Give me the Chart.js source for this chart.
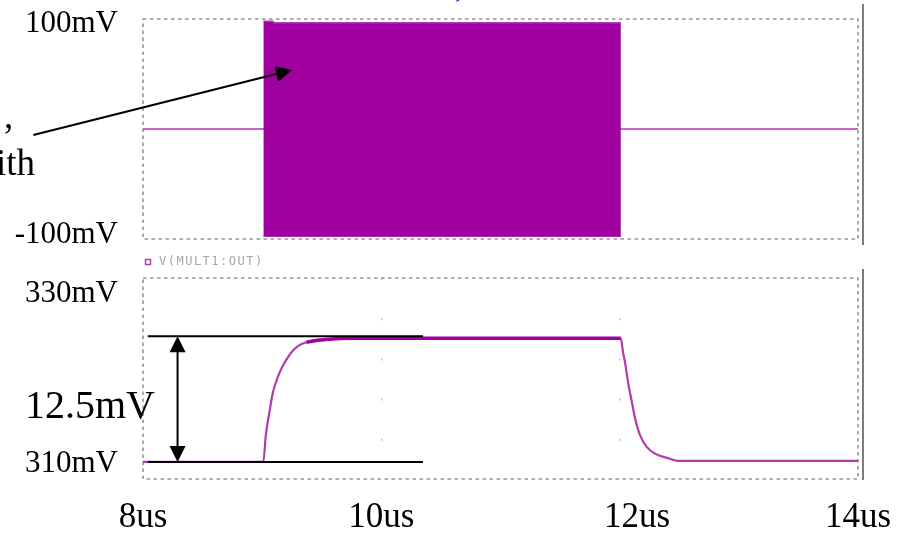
<!DOCTYPE html>
<html>
<head>
<meta charset="utf-8">
<script src="https://cdn.jsdelivr.net/npm/chart.js@4.4.0/dist/chart.umd.min.js"></script>
<style>
  body { margin: 0; background: #fff; }
  #wrap { position: relative; width: 911px; height: 533px; overflow: hidden; }
  canvas { position: absolute; left: 0; }
  #topChart { top: 0; }
  #outChart { top: 250px; }
</style>
</head>
<body>
<div id="wrap">
  <canvas id="topChart" width="911" height="250"></canvas>
  <canvas id="outChart" width="911" height="283"></canvas>
</div>
<script>
// time axis, us
const timeTicks = [8, 10, 12, 14];
const timeLabels = ['8us', '10us', '12us', '14us'];

// upper trace: the modulated burst, drawn as its envelope
const burstTime = [9.01, 9.09, 9.1, 12.01];
const burstHigh = [98, 98, 96.5, 96.5];
const burstLow = [-97.5, -97.5, -97.5, -97.5];
const idleTime = [8, 14];
const idleMv = [0, 0];
const topTicks = [-100, 100];
const topLabels = ['-100mV', '100mV'];

// lower trace: V(MULT1:OUT)
const outName = 'V(MULT1:OUT)';
const outTime = [8, 9.01, 9.03, 9.06, 9.09, 9.13, 9.17, 9.21, 9.26, 9.31, 9.37, 9.46, 9.56, 9.71,
                 12.01, 12.027, 12.045, 12.072, 12.1, 12.128, 12.17, 12.227, 12.3, 12.4, 12.5, 14];
const outMv = [311.7, 311.7, 314.3, 316.6, 318.6, 320.1, 321.2, 322.0, 322.8, 323.3, 323.6, 323.8, 323.9, 324.0,
               324.0, 322.7, 321.6, 319.5, 317.8, 316.1, 314.4, 313.2, 312.5, 312.1, 311.8, 311.8];
const outTicks = [310, 330];
const outLabels = ['310mV', '330mV'];

// measured step on the output
const stepLow = 311.7;
const stepSize = 12.5;

const serif = "'Liberation Serif', 'Times New Roman', serif";
Chart.defaults.font.family = serif;
Chart.defaults.animation = false;

const pts = (xs, ys) => xs.map((x, i) => ({ x: x, y: ys[i] }));

// keep the axes from pushing the plot area around
function noPadding(s) {
  s.paddingTop = 0;
  s.paddingBottom = 0;
  s.paddingLeft = 0;
  s.paddingRight = 0;
}

function timeAxis(show) {
  return {
    type: 'linear',
    min: 8,
    max: 14,
    display: show,
    afterBuildTicks: (s) => { s.ticks = timeTicks.map((v) => ({ value: v })); },
    afterFit: (s) => {
      noPadding(s);
      s.height = show ? 54 : 0;
    },
    grid: {
      drawTicks: false,
      lineWidth: 1.5,
      // only the inner gridlines, the frame takes care of the edges
      color: (c) => (c.index === 0 || c.index === timeTicks.length - 1) ? 'rgba(0,0,0,0)' : '#c2c2c2'
    },
    border: { display: false, dash: [2, 38.2] },
    ticks: {
      padding: 18,
      color: '#000',
      font: { size: 35 },
      // the 12us label sits a bit right of its gridline
      callback: (v, i) => (i === 2 ? '\u2002\u2002' : '') + timeLabels[i]
    }
  };
}

// nudge moves a label up (-) or down (+) from its tick by padding with an empty line
function voltAxis(min, max, ticks, labels, nudge) {
  return {
    type: 'linear',
    min: min,
    max: max,
    afterBuildTicks: (s) => { s.ticks = ticks.map((v) => ({ value: v })); },
    afterFit: (s) => {
      noPadding(s);
      s.width = 143;
    },
    grid: { display: false, drawTicks: false },
    border: { display: false },
    ticks: {
      padding: 25,
      color: '#000',
      callback: (v, i) => nudge[i] > 0 ? ['', labels[i]] : [labels[i], ''],
      font: (c) => ({ size: 31, lineHeight: (2 * Math.abs(nudge[c.index] || 0)) + 'px' })
    }
  };
}

// dotted frame plus the solid bar on the right
const framePlugin = {
  id: 'frame',
  beforeDatasetsDraw(chart, args, opts) {
    const { ctx, chartArea: a } = chart;
    ctx.save();
    ctx.strokeStyle = '#949494';
    ctx.lineWidth = 1.6;
    ctx.setLineDash([3.5, 3.5]);
    ctx.strokeRect(a.left, a.top, a.right - a.left, a.bottom - a.top);
    ctx.setLineDash([]);
    ctx.strokeStyle = '#7c7c7c';
    ctx.lineWidth = 2;
    ctx.beginPath();
    ctx.moveTo(a.right + 5, a.top - opts.above);
    ctx.lineTo(a.right + 5, a.bottom + opts.below);
    ctx.stroke();
    ctx.restore();
  }
};

function arrowHead(ctx, x0, y0, x1, y1, len, half) {
  const ang = Math.atan2(y1 - y0, x1 - x0);
  const bx = x1 - len * Math.cos(ang);
  const by = y1 - len * Math.sin(ang);
  ctx.beginPath();
  ctx.moveTo(x1, y1);
  ctx.lineTo(bx + half * Math.sin(ang), by - half * Math.cos(ang));
  ctx.lineTo(bx - half * Math.sin(ang), by + half * Math.cos(ang));
  ctx.closePath();
  ctx.fill();
}

// pointer into the burst and the bits of slide text around it
const topNotes = {
  id: 'topNotes',
  afterDatasetsDraw(chart) {
    const { ctx, scales: { x, y } } = chart;
    const x0 = x.getPixelForValue(7.08), y0 = y.getPixelForValue(-5.5);
    const x1 = x.getPixelForValue(9.25), y1 = y.getPixelForValue(53.6);
    const ang = Math.atan2(y1 - y0, x1 - x0);
    ctx.save();
    ctx.strokeStyle = '#000';
    ctx.fillStyle = '#000';
    ctx.lineWidth = 2;
    ctx.beginPath();
    ctx.moveTo(x0, y0);
    ctx.lineTo(x1 - 10 * Math.cos(ang), y1 - 10 * Math.sin(ang));
    ctx.stroke();
    arrowHead(ctx, x0, y0, x1, y1, 16, 8);

    ctx.font = '37px ' + serif;
    ctx.textBaseline = 'alphabetic';
    ctx.textAlign = 'left';
    ctx.fillText(',', 4, 128);
    ctx.textAlign = 'right';
    ctx.fillText('with', 35, 175);
    ctx.fillStyle = '#1010ff';
    ctx.textAlign = 'left';
    ctx.fillText(',', 455, -4);
    ctx.restore();
  }
};

// legend tag and the 12.5mV step marker
const outNotes = {
  id: 'outNotes',
  afterDatasetsDraw(chart) {
    const { ctx, scales: { x, y } } = chart;
    ctx.save();
    ctx.strokeStyle = '#b040b0';
    ctx.lineWidth = 1.5;
    ctx.strokeRect(145.5, 9.5, 5, 5);
    ctx.fillStyle = '#a6a6a6';
    ctx.font = '12px "DejaVu Sans Mono", monospace';
    ctx.letterSpacing = '1.5px';
    ctx.textBaseline = 'middle';
    ctx.fillText(outName, 159, 12);
    ctx.letterSpacing = '0px';

    const yHi = y.getPixelForValue(stepLow + stepSize);
    const yLo = y.getPixelForValue(stepLow);
    const xa = x.getPixelForValue(8.04), xb = x.getPixelForValue(10.35);
    const xm = x.getPixelForValue(8.29);
    ctx.strokeStyle = '#000';
    ctx.fillStyle = '#000';
    ctx.lineWidth = 2;
    ctx.beginPath();
    ctx.moveTo(xa, yHi); ctx.lineTo(xb, yHi);
    ctx.moveTo(xa, yLo); ctx.lineTo(xb, yLo);
    ctx.moveTo(xm, yHi + 10); ctx.lineTo(xm, yLo - 10);
    ctx.stroke();
    arrowHead(ctx, xm, yLo, xm, yHi, 16, 8);
    arrowHead(ctx, xm, yHi, xm, yLo, 16, 8);

    ctx.font = '40px ' + serif;
    ctx.textBaseline = 'alphabetic';
    ctx.textAlign = 'left';
    ctx.fillText(stepSize + 'mV', 25, 168);
    ctx.restore();
  }
};

new Chart(document.getElementById('topChart'), {
  type: 'line',
  data: {
    datasets: [
      {
        label: 'burst high',
        data: pts(burstTime, burstHigh),
        borderColor: '#b23ab2',
        borderWidth: 1.5,
        backgroundColor: '#a000a0',
        fill: '+1',
        pointRadius: 0,
        order: 0
      },
      {
        label: 'burst low',
        data: pts(burstTime, burstLow),
        borderColor: '#b23ab2',
        borderWidth: 1.5,
        fill: false,
        pointRadius: 0,
        order: 0
      },
      {
        label: 'idle',
        data: pts(idleTime, idleMv),
        borderColor: '#c766c7',
        borderWidth: 2,
        fill: false,
        pointRadius: 0,
        order: 2
      }
    ]
  },
  options: {
    responsive: false,
    layout: { padding: { top: 19, right: 53, bottom: 11, left: 0 } },
    scales: {
      x: timeAxis(false),
      y: voltAxis(-100, 100, topTicks, topLabels, [-4, 5])
    },
    plugins: {
      legend: { display: false },
      tooltip: { enabled: false },
      frame: { above: 15, below: 6 }
    }
  },
  plugins: [framePlugin, topNotes]
});

// the settled top of the step is drawn heavier, the rest a lighter magenta
const onTop = (c) => c.p0.parsed.y > 323.5 && c.p1.parsed.y > 323.5;

new Chart(document.getElementById('outChart'), {
  type: 'line',
  data: {
    datasets: [
      {
        label: outName,
        data: pts(outTime, outMv),
        borderColor: '#a82aa8',
        borderWidth: 2.5,
        segment: {
          borderWidth: (c) => onTop(c) ? 3.5 : 2.2,
          borderColor: (c) => onTop(c) ? '#a000a0' : '#b03cb0'
        },
        cubicInterpolationMode: 'monotone',
        fill: false,
        pointRadius: 0
      }
    ]
  },
  options: {
    responsive: false,
    layout: { padding: { top: 28, right: 53, bottom: 0, left: 0 } },
    scales: {
      x: timeAxis(true),
      y: voltAxis(310, 330, outTicks, outLabels, [-15, 16])
    },
    plugins: {
      legend: { display: false },
      tooltip: { enabled: false },
      frame: { above: 9, below: 1 }
    }
  },
  plugins: [framePlugin, outNotes]
});
</script>
</body>
</html>
